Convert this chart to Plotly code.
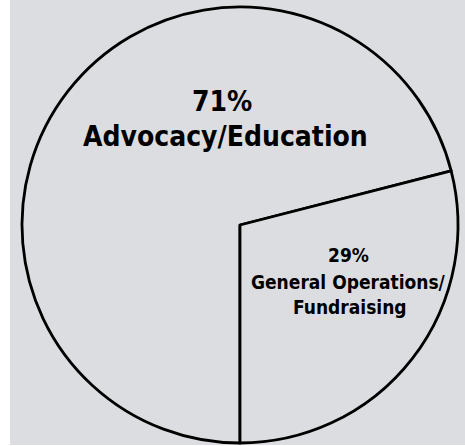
import plotly.graph_objects as go

labels = ["Advocacy/Education", "General Operations/<br>Fundraising"]
values = [71, 29]

W, H = 465, 446
BG = "#dcdde0"
FONT = "DejaVu Sans Condensed, Liberation Sans Narrow, sans-serif"

def px(x):
    return x / W

def py(y):
    return (H - y) / H

fig = go.Figure(go.Pie(
    labels=labels,
    values=values,
    sort=False,
    direction="clockwise",
    rotation=180,
    textinfo="none",
    hoverinfo="label+percent",
    marker=dict(colors=[BG, BG], line=dict(color="black", width=2.8)),
    domain=dict(x=[px(22), px(458)], y=[py(443), py(7)]),
    showlegend=False,
))

shapes = [dict(type="rect", xref="paper", yref="paper", x0=px(10), x1=1, y0=py(445), y1=1,
               fillcolor=BG, line=dict(width=0), layer="below")]

ann = []
def add(text, x, y, size):
    ann.append(dict(text=f"<b>{text}</b>", x=px(x), y=py(y), xref="paper", yref="paper",
                    xanchor="center", yanchor="middle", showarrow=False,
                    font=dict(family=FONT, size=size, color="black")))

add(f"{values[0]}%", 222, 101, 28)
add(labels[0], 225, 136, 28)
l1, l2 = labels[1].split("<br>")
add(f"{values[1]}%", 348, 255, 19)
add(l1, 348, 282, 19)
add(l2, 350, 307, 19)

fig.update_layout(width=W, height=H, margin=dict(l=0, r=0, t=0, b=0),
                  paper_bgcolor="white", shapes=shapes, annotations=ann)
fig.write_html("out.html", config={"displayModeBar": False},
               post_script="document.body.style.margin='0';document.body.style.overflow='hidden';")
